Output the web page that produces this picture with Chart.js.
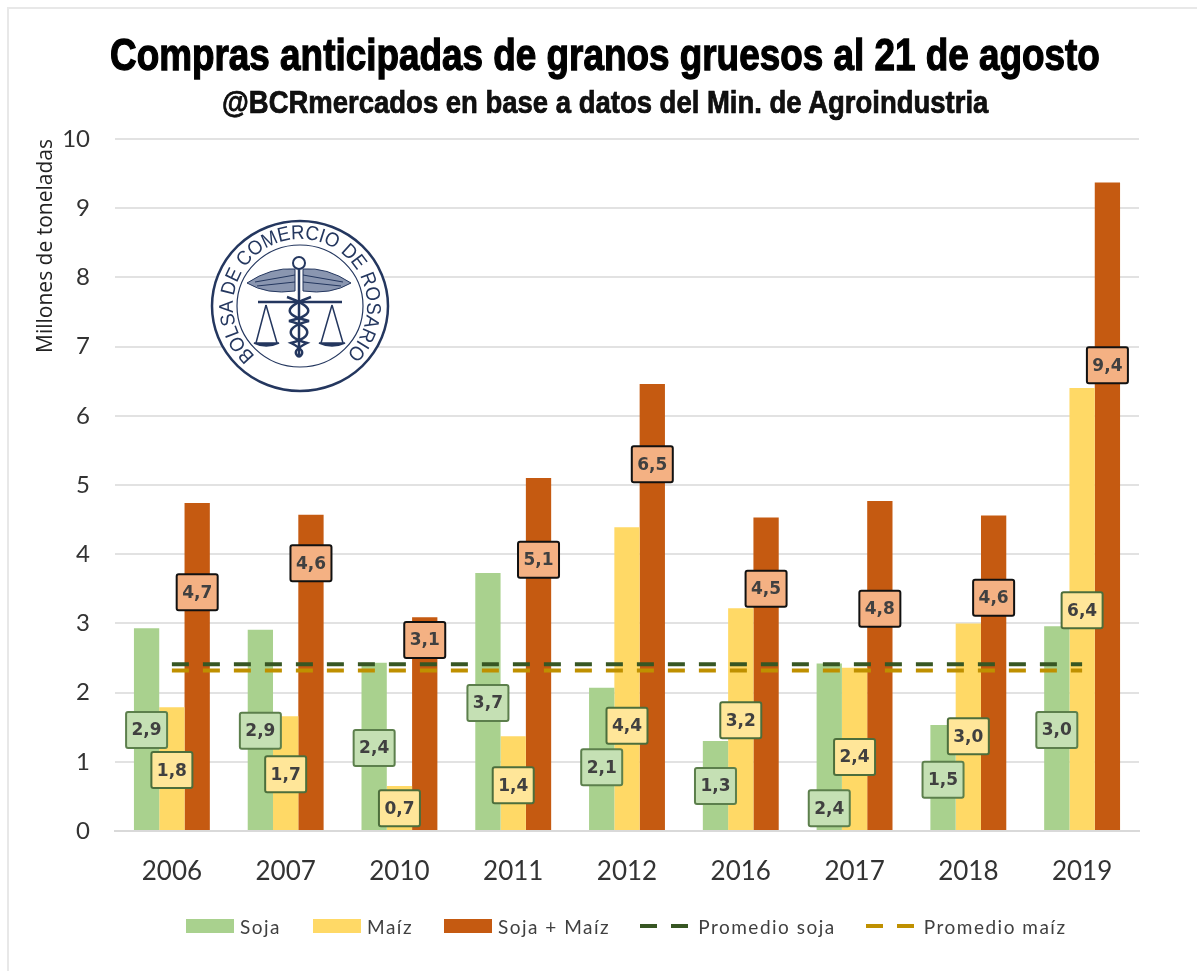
<!DOCTYPE html>
<html>
<head>
<meta charset="utf-8">
<script src="https://cdn.jsdelivr.net/npm/chart.js@4"></script>
<style>
  html, body { margin: 0; padding: 0; background: #fff; }
  #wrap { position: relative; width: 1197px; height: 971px; overflow: hidden; }
  #frame { position: absolute; left: 7px; top: 7px; width: 1300px; height: 1000px; border: 2px solid #e8e8e8; box-sizing: border-box; }
  #chart { position: absolute; left: 0; top: 0; }
  .head { position: absolute; left: 0; white-space: nowrap; margin: 0; font-family: "Liberation Sans", sans-serif; font-weight: bold; color: #000; transform-origin: 0 0; line-height: 1; }
  #title { top: 32px; font-size: 45px; -webkit-text-stroke: 1.3px #000; }
  #subtitle { top: 86px; font-size: 32px; -webkit-text-stroke: 0.7px #000; color: #111; }
  #logo { position: absolute; left: 205px; top: 215px; }
  #legend { position: absolute; left: 186px; top: 914px; height: 24px; display: flex; align-items: center; font: 19px Lato, sans-serif; color: #404040; letter-spacing: 1.5px; }
  #legend .item { display: flex; align-items: center; white-space: nowrap; }
  #legend svg { display: block; margin-right: 6px; }
</style>
</head>
<body>
<div id="wrap">
  <div id="frame"></div>
  <canvas id="chart" width="1197" height="971"></canvas>
  <h1 class="head" id="title">Compras anticipadas de granos gruesos al 21 de agosto</h1>
  <h2 class="head" id="subtitle">@BCRmercados en base a datos del Min. de Agroindustria</h2>
  <svg id="logo" width="190" height="182" viewBox="0 0 190 182">
    <defs>
      <path id="logoArc" d="M 50.2 140.8 A 67 67 0 1 1 139.8 140.8"></path>
    </defs>
    <g fill="none" stroke="#24375f">
      <ellipse cx="95" cy="91" rx="88" ry="85" fill="#fff" stroke-width="2.5"></ellipse>
      <ellipse cx="95" cy="91" rx="63" ry="61" stroke-width="1.2"></ellipse>
      <!-- alas -->
      <path d="M 42 68 Q 66 52 90 54 L 90 76 Q 62 80 42 68 Z" fill="#8a96b0" stroke-width="1"></path>
      <path d="M 146 68 Q 122 52 98 54 L 98 76 Q 126 80 146 68 Z" fill="#8a96b0" stroke-width="1"></path>
      <path d="M 50 67 L 90 60 M 52 71 L 90 67 M 138 67 L 98 60 M 136 71 L 98 67" stroke-width="1"></path>
      <!-- caduceo -->
      <circle cx="94" cy="48" r="6" stroke-width="2"></circle>
      <path d="M 94 54 L 94 142" stroke-width="2.5"></path>
      <path d="M 82 82 C 110 92 110 100 84 106 C 108 112 108 122 86 128 C 98 134 100 138 94 142" stroke-width="2.5"></path>
      <path d="M 106 82 C 78 92 78 100 104 106 C 80 112 80 122 102 128 C 90 134 88 138 94 142" stroke-width="2.5"></path>
      <!-- balanza -->
      <path d="M 53 87 L 137 87" stroke-width="2.5"></path>
      <path d="M 61 90 L 51 128 M 61 90 L 72 128 M 127 90 L 116 128 M 127 90 L 138 128" stroke-width="1.5"></path>
      <path d="M 49 128 L 74 128 Q 61 134 49 128 Z" fill="#24375f" stroke-width="1.5"></path>
      <path d="M 114 128 L 140 128 Q 127 134 114 128 Z" fill="#24375f" stroke-width="1.5"></path>
    </g>
    <text font-family="Liberation Sans, sans-serif" font-size="20" fill="#24375f">
      <textPath href="#logoArc" textLength="320" lengthAdjust="spacingAndGlyphs">BOLSA DE COMERCIO DE ROSARIO</textPath>
    </text>
  </svg>
  <div id="legend"></div>
</div>
<script>
const years = ['2006', '2007', '2010', '2011', '2012', '2016', '2017', '2018', '2019'];
const soja = [2.93, 2.91, 2.43, 3.73, 2.07, 1.30, 2.42, 1.53, 2.96];
const maiz = [1.79, 1.66, 0.65, 1.37, 4.39, 3.22, 2.36, 3.00, 6.40];
const sojaMaiz = [4.74, 4.57, 3.09, 5.10, 6.46, 4.53, 4.77, 4.56, 9.37];
const promedioSoja = [2.41, 2.41, 2.41, 2.41, 2.41, 2.41, 2.41, 2.41, 2.41];
const promedioMaiz = [2.32, 2.32, 2.32, 2.32, 2.32, 2.32, 2.32, 2.32, 2.32];

// rotulos movidos a mano como en el original (altura en unidades del eje)
const alturaRotuloSoja = [1.46, 1.45, 1.20, 1.85, 0.92, 0.65, 0.33, 0.74, 1.46];
const alturaRotuloMaiz = [0.88, 0.82, 0.33, 0.66, 1.52, 1.60, 1.07, 1.37, 3.19];
const alturaRotuloSuma = [3.45, 3.87, 2.76, 3.92, 5.30, 3.50, 3.21, 3.37, 6.73];

const fmt = v => v.toFixed(1).replace('.', ',');

const rotulos = {
    id: 'rotulos',
    afterDatasetsDraw(chart) {
        const { ctx, scales } = chart;
        const sets = [
            { index: 0, alturas: alturaRotuloSoja, fill: '#c5e0b4', border: '#5c7f4c' },
            { index: 1, alturas: alturaRotuloMaiz, fill: '#ffe699', border: '#4c6e3c' },
            { index: 2, alturas: alturaRotuloSuma, fill: '#f4b183', border: '#111111' }
        ];
        ctx.save();
        ctx.font = 'bold 17px "DejaVu Sans"';
        ctx.textAlign = 'center';
        ctx.textBaseline = 'middle';
        sets.forEach(set => {
            const meta = chart.getDatasetMeta(set.index);
            const data = chart.data.datasets[set.index].data;
            meta.data.forEach((bar, i) => {
                const y = scales.y.getPixelForValue(set.alturas[i]);
                ctx.fillStyle = set.fill;
                ctx.strokeStyle = set.border;
                ctx.lineWidth = 2;
                ctx.beginPath();
                ctx.roundRect(bar.x - 20.5, y - 18, 41, 36, 2);
                ctx.fill();
                ctx.stroke();
                ctx.fillStyle = '#404040';
                ctx.fillText(fmt(data[i]), bar.x, y + 1);
            });
        });
        ctx.restore();
    }
};

const chart = new Chart(document.getElementById('chart'), {
    type: 'bar',
    data: {
        labels: years,
        datasets: [
            { label: 'Soja', data: soja, backgroundColor: '#a9d18e', order: 2 },
            { label: 'Maíz', data: maiz, backgroundColor: '#ffd966', order: 2 },
            { label: 'Soja + Maíz', data: sojaMaiz, backgroundColor: '#c55a11', order: 2 },
            { label: 'Promedio soja', type: 'line', data: promedioSoja, borderColor: '#375623', borderWidth: 4, borderDash: [17, 14], pointRadius: 0, order: 1 },
            { label: 'Promedio maíz', type: 'line', data: promedioMaiz, borderColor: '#bf9000', borderWidth: 4, borderDash: [17, 14], pointRadius: 0, order: 1 }
        ]
    },
    plugins: [rotulos],
    options: {
        responsive: false,
        animation: false,
        layout: { padding: { left: 33, right: 58, top: 139, bottom: 80 } },
        datasets: { bar: { categoryPercentage: 0.667, barPercentage: 1 } },
        plugins: {
            legend: { display: false },
            tooltip: { enabled: false }
        },
        scales: {
            x: {
                afterFit(axis) { axis.height = 60; },
                grid: { display: false },
                border: { color: '#d9d9d9', width: 2 },
                ticks: { color: '#333', font: { family: 'Lato', size: 26 }, padding: 17 }
            },
            y: {
                min: 0,
                max: 10,
                afterFit(axis) { axis.width = 82; },
                grid: { color: '#e2e2e2', lineWidth: 2, drawTicks: false },
                border: { display: false },
                ticks: { stepSize: 1, color: '#333', font: { family: 'Lato', size: 24 }, padding: 25 },
                title: {
                    display: true,
                    text: 'Millones de toneladas',
                    align: 'end',
                    color: '#222',
                    font: { family: 'Open Sans', size: 21 },
                    padding: 0
                }
            }
        }
    }
});

// ajusta el ancho de los titulos al original (fuente condensada no disponible)
function fitHead(id, left, width) {
    const el = document.getElementById(id);
    el.style.left = left + 'px';
    el.style.transform = 'scaleX(' + (width / el.offsetWidth) + ')';
}
fitHead('title', 110, 990);
fitHead('subtitle', 222, 766);

// leyenda propia: Chart.js no dibuja bien la muestra punteada
const legendGaps = [32, 31, 30, 30, 0];
const legendEl = document.getElementById('legend');
chart.data.datasets.forEach((ds, i) => {
    const item = document.createElement('div');
    item.className = 'item';
    item.style.marginRight = legendGaps[i] + 'px';
    const swatch = ds.type === 'line'
        ? `<svg width="48" height="14" style="margin-right:10px"><line x1="0" x2="48" y1="7" y2="7" stroke="${ds.borderColor}" stroke-width="4" stroke-dasharray="17 14"></line></svg>`
        : `<svg width="48" height="14"><rect width="48" height="14" fill="${ds.backgroundColor}"></rect></svg>`;
    item.innerHTML = swatch + '<span>' + ds.label + '</span>';
    legendEl.appendChild(item);
});
</script>
</body>
</html>
